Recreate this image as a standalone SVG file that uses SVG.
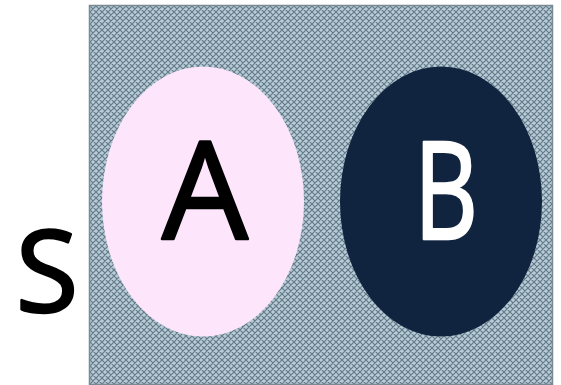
<svg xmlns="http://www.w3.org/2000/svg" width="561" height="385" viewBox="0 0 561 385">
<defs>
<pattern id="hatch" patternUnits="userSpaceOnUse" width="6" height="6">
<rect width="6" height="6" fill="#b8cbd6"/>
<path d="M0,0 L6,6 M6,0 L0,6 M-1,5 L1,7 M5,-1 L7,1 M-1,1 L1,-1 M5,7 L7,5" stroke="#637b89" stroke-width="1.2" fill="none"/>
</pattern>
<style>
.lbl{font-family:"Open Sans","Noto Sans",sans-serif;text-anchor:middle;stroke-width:2.6;stroke-linejoin:round}
</style>
</defs>
<rect width="561" height="385" fill="#ffffff"/>
<g id="universe">
<rect x="89.5" y="5.5" width="463" height="379" fill="url(#hatch)" stroke="#7a8a94" stroke-width="1.5"/>
</g>
<g id="set-A">
<ellipse cx="203" cy="201.5" rx="101" ry="135" fill="#fde6fb"/>
<text class="lbl" x="205" y="239" font-size="136" fill="#000000" stroke="#000000">A</text>
</g>
<g id="set-B">
<ellipse cx="441" cy="201.5" rx="101" ry="135" fill="#10243f"/>
<text class="lbl" x="446" y="239" font-size="136" fill="#ffffff" stroke="#ffffff" textLength="64" lengthAdjust="spacingAndGlyphs">B</text>
</g>
<g id="label-S">
<text class="lbl" x="47" y="312" font-size="114" fill="#000000" stroke="#000000">S</text>
</g>
<g id="connectors"></g>
</svg>
